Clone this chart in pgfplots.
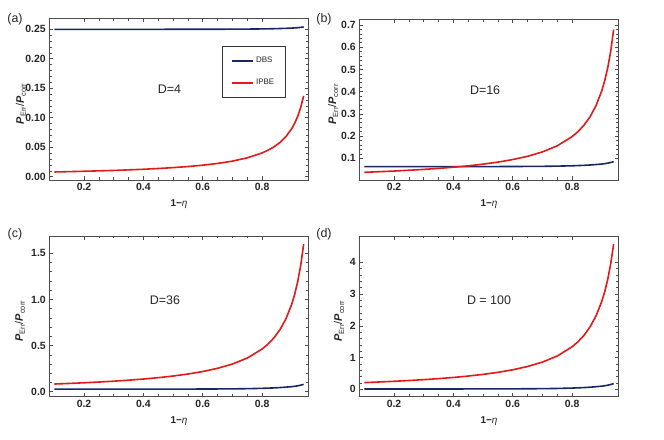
\documentclass[border=0pt]{standalone}
\usepackage{fontspec}
\setmainfont{Liberation Sans}
\usepackage{pgfplots}
\pgfplotsset{compat=1.18}
\definecolor{dbs}{RGB}{25,40,100}
\definecolor{ipbe}{RGB}{225,25,25}
\newcommand{\sub}[1]{\raisebox{-0.35ex}{\fontsize{7.5}{8}\selectfont #1}}
\begin{document}
\begin{tikzpicture}
\path[use as bounding box] (0bp,0bp) rectangle (664bp,440bp);
\pgfplotsset{
 panel/.style={
  scale only axis, width=259.4bp, height=161.2bp,
  anchor=south west,
  xmin=0.083, xmax=0.957,
  xtick={0.2,0.4,0.6,0.8}, minor x tick num=3,
  tick align=inside, major tick length=4bp, minor tick length=2.5bp,
  axis line style={black!70, line width=0.7bp},
  every tick/.style={black!70, line width=0.6bp},
  tick label style={font=\fontsize{10.5}{11}\selectfont\bfseries, text=black!85},
  /pgf/number format/assume math mode=true,
  xticklabel style={/pgf/number format/.cd, fixed, fixed zerofill, precision=1},
  xlabel={\textbf{1−}\textit{η}},
  xlabel style={font=\fontsize{10}{11}\selectfont, at={(axis description cs:0.5,0)}, anchor=center, yshift=-24bp, text=black!85},
  ylabel={\textbf{\textit{P}}\sub{Err}/\textbf{\textit{P}}\sub{corr}},
  ylabel style={font=\fontsize{11}{12}\selectfont, anchor=center, text=black!85},
  every axis plot/.append style={line width=1.6bp, no markers},
  clip=true,
 },
 dbsline/.style={color=dbs},
 ipbeline/.style={color=ipbe},
}

% ---------------- (a) D=4
\begin{axis}[panel, at={(49.3bp,260bp)}, height=161.7bp,
  ymin=-0.0056, ymax=0.2687,
  ytick={0,0.05,0.1,0.15,0.2,0.25}, minor y tick num=4,
  yticklabel style={/pgf/number format/.cd, fixed, fixed zerofill, precision=2},
  ylabel style={at={(axis description cs:-0.109,0.47)}},
  legend style={at={(rel axis cs:0.666,0.829)}, anchor=north west, draw=black!80, line width=0.8bp, fill=white,
    font=\fontsize{8}{9}\selectfont, inner xsep=9bp, inner ysep=9bp, row sep=11bp, text=black!85},
  legend cell align=left,
  legend image code/.code={\draw[#1, line width=1.6bp] (0bp,0bp) -- (21bp,0bp);},
]
\addplot[dbsline] coordinates {(0.10,0.25)(0.30,0.25)(0.50,0.25004)(0.60,0.2501)(0.70,0.25024)(0.75,0.2504)(0.80,0.25068)(0.84,0.25104)(0.88,0.25168)(0.90,0.25208)(0.92,0.2528)(0.93,0.25332)(0.94,0.254)};
\addlegendentry{DBS}
\addplot[ipbeline] coordinates {(0.10,0.0080)(0.15,0.0086)(0.20,0.0092)(0.25,0.0099)(0.30,0.0106)(0.35,0.0116)(0.40,0.0126)(0.45,0.0139)(0.50,0.0154)(0.55,0.0172)(0.60,0.0195)(0.65,0.0225)(0.70,0.0264)(0.75,0.0320)(0.80,0.0403)(0.82,0.0449)(0.84,0.0506)(0.86,0.0580)(0.88,0.0679)(0.90,0.0817)(0.91,0.0909)(0.92,0.1024)(0.93,0.1172)(0.94,0.1370)};
\addlegendentry{IPBE\hspace{6bp}}
\node[font=\fontsize{12.5}{14}\selectfont, text=black!85] at (rel axis cs:0.463,0.563) {D=4};
\end{axis}

% ---------------- (b) D=16
\begin{axis}[panel, at={(359.3bp,260bp)}, height=160.7bp,
  ymin=0.0024, ymax=0.7257,
  ytick={0.1,0.2,0.3,0.4,0.5,0.6,0.7}, minor y tick num=4,
  yticklabel style={/pgf/number format/.cd, fixed, fixed zerofill, precision=1},
  ylabel style={at={(axis description cs:-0.101,0.47)}},
]
\addplot[dbsline] coordinates {(0.10,0.0625)(0.30,0.06255)(0.40,0.0626)(0.50,0.0627)(0.60,0.0631)(0.70,0.0639)(0.75,0.0648)(0.80,0.0663)(0.84,0.0684)(0.86,0.0699)(0.88,0.0720)(0.90,0.0742)(0.91,0.0760)(0.92,0.0783)(0.93,0.0812)(0.94,0.085)};
\addplot[ipbeline] coordinates {(0.10,0.0370)(0.15,0.0397)(0.20,0.0427)(0.25,0.0462)(0.30,0.0501)(0.35,0.0546)(0.40,0.0599)(0.45,0.0662)(0.50,0.0737)(0.55,0.0829)(0.60,0.0944)(0.65,0.1091)(0.70,0.1288)(0.75,0.1563)(0.80,0.1976)(0.82,0.2205)(0.84,0.2492)(0.86,0.2861)(0.88,0.3353)(0.90,0.4041)(0.91,0.4500)(0.92,0.5074)(0.93,0.5811)(0.94,0.6794)};
\node[font=\fontsize{12.5}{14}\selectfont, text=black!85] at (rel axis cs:0.485,0.557) {D=16};
\end{axis}

% ---------------- (c) D=36
\begin{axis}[panel, at={(49.3bp,43.3bp)}, height=160.7bp,
  ymin=-0.054, ymax=1.688,
  ytick={0,0.5,1,1.5}, minor y tick num=4,
  yticklabel style={/pgf/number format/.cd, fixed, fixed zerofill, precision=1},
  ylabel style={at={(axis description cs:-0.113,0.47)}},
]
\addplot[dbsline] coordinates {(0.10,0.0278)(0.30,0.0279)(0.40,0.0281)(0.50,0.0283)(0.60,0.0291)(0.70,0.0309)(0.75,0.0330)(0.80,0.0366)(0.84,0.0413)(0.86,0.0450)(0.88,0.0496)(0.90,0.0548)(0.91,0.0590)(0.92,0.0642)(0.93,0.0710)(0.94,0.080)};
\addplot[ipbeline] coordinates {(0.10,0.0833)(0.15,0.0897)(0.20,0.0969)(0.25,0.1050)(0.30,0.1143)(0.35,0.1250)(0.40,0.1375)(0.45,0.1523)(0.50,0.1700)(0.55,0.1917)(0.60,0.2188)(0.65,0.2536)(0.70,0.3000)(0.75,0.3650)(0.80,0.4625)(0.82,0.5167)(0.84,0.5844)(0.86,0.6714)(0.88,0.7875)(0.90,0.9500)(0.91,1.0583)(0.92,1.1938)(0.93,1.3679)(0.94,1.6000)};
\node[font=\fontsize{12.5}{14}\selectfont, text=black!85] at (rel axis cs:0.446,0.602) {D=36};
\end{axis}

% ---------------- (d) D=100
\begin{axis}[panel, at={(359.3bp,43.3bp)}, height=160.7bp,
  ymin=-0.233, ymax=4.83,
  ytick={0,1,2,3,4}, minor y tick num=4,
  yticklabel style={/pgf/number format/.cd, fixed, precision=0},
  ylabel style={at={(axis description cs:-0.078,0.47)}},
]
\addplot[dbsline] coordinates {(0.10,0.01)(0.30,0.0103)(0.40,0.0109)(0.50,0.0117)(0.60,0.0143)(0.70,0.0202)(0.75,0.027)(0.80,0.0389)(0.84,0.0542)(0.86,0.0661)(0.88,0.0814)(0.90,0.0984)(0.91,0.112)(0.92,0.129)(0.93,0.151)(0.94,0.18)};
\addplot[ipbeline] coordinates {(0.10,0.212)(0.15,0.231)(0.20,0.2525)(0.25,0.2767)(0.30,0.3043)(0.35,0.3362)(0.40,0.3733)(0.45,0.4173)(0.50,0.47)(0.55,0.5344)(0.60,0.615)(0.65,0.7186)(0.70,0.8567)(0.75,1.05)(0.80,1.34)(0.82,1.50)(0.84,1.70)(0.86,1.96)(0.88,2.30)(0.90,2.77)(0.91,3.08)(0.92,3.46)(0.93,3.95)(0.94,4.58)};
\node[font=\fontsize{12.5}{14}\selectfont, text=black!85] at (rel axis cs:0.50,0.602) {D = 100};
\end{axis}

% panel letters
\node[font=\fontsize{12.5}{14}\selectfont, text=black!85] at (15bp,421bp) {(a)};
\node[font=\fontsize{12.5}{14}\selectfont, text=black!85] at (324bp,421bp) {(b)};
\node[font=\fontsize{12.5}{14}\selectfont, text=black!85] at (15bp,206bp) {(c)};
\node[font=\fontsize{12.5}{14}\selectfont, text=black!85] at (324bp,206bp) {(d)};
\end{tikzpicture}
\end{document}
